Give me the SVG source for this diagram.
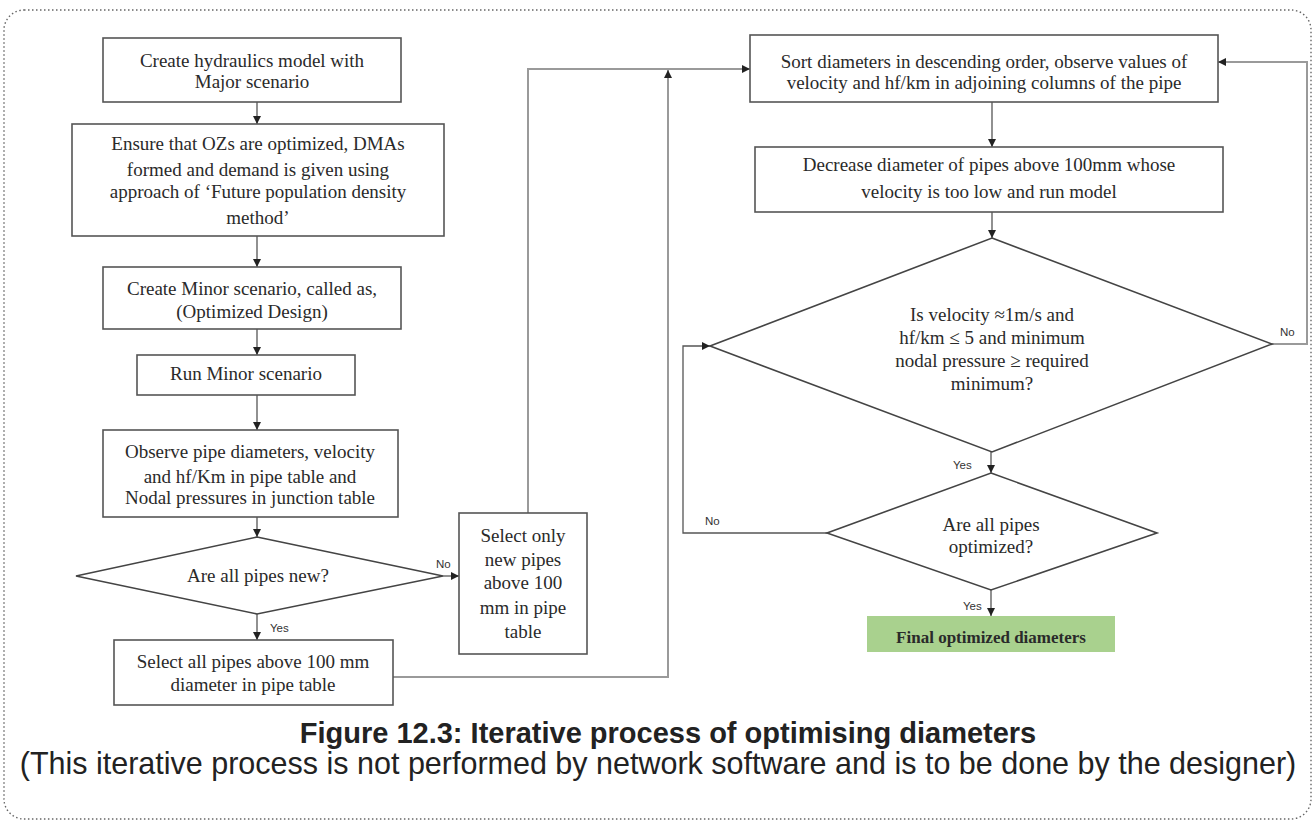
<svg xmlns="http://www.w3.org/2000/svg" width="1316" height="824" viewBox="0 0 1316 824">
<defs>
<marker id="arr" viewBox="0 0 10 10" refX="10" refY="5" markerWidth="8" markerHeight="8" markerUnits="userSpaceOnUse" orient="auto">
<path d="M0,0 L10,5 L0,10 z" fill="#222"/>
</marker>
<style>
.box{fill:#fff;stroke:#555;stroke-width:1.6}
.dia{fill:#fff;stroke:#444;stroke-width:1.6}
.t{font-family:"Liberation Serif","Times New Roman",serif;font-size:19px;fill:#2a2a2a;text-anchor:middle}
.lbl{font-family:"Liberation Sans",Arial,sans-serif;font-size:11.5px;fill:#333}
.c{fill:none;stroke:#555;stroke-width:1.3}
.cg{fill:none;stroke:#9a9a9a;stroke-width:2}
.cap{font-family:"Liberation Sans",Arial,sans-serif;fill:#222;text-anchor:middle}
</style>
</defs>
<rect width="1316" height="824" fill="#fff"/>
<rect x="4" y="10" width="1307" height="809" rx="20" ry="20" fill="none" stroke="#666" stroke-width="1.4" stroke-dasharray="1.5 2.5"/>

<g id="connectors">
<path class="c" d="M257,102 V124" marker-end="url(#arr)"/>
<path class="c" d="M257,236 V267" marker-end="url(#arr)"/>
<path class="c" d="M257,329 V355" marker-end="url(#arr)"/>
<path class="c" d="M257,395 V430" marker-end="url(#arr)"/>
<path class="c" d="M257,517 V537" marker-end="url(#arr)"/>
<path class="c" d="M443,576 H459" marker-end="url(#arr)"/>
<path class="c" d="M257,614 V640" marker-end="url(#arr)"/>
<path class="cg" d="M528,513 V69 H750" marker-end="url(#arr)"/>
<path class="cg" d="M393,677 H668 V70" marker-end="url(#arr)"/>
<path class="c" d="M992,102 V147" marker-end="url(#arr)"/>
<path class="c" d="M992,212 V238" marker-end="url(#arr)"/>
<path class="c" d="M991,452 V473" marker-end="url(#arr)"/>
<path class="c" d="M991,590 V616" marker-end="url(#arr)"/>
<path class="c" d="M827,533 H683 V346 H710" marker-end="url(#arr)"/>
<path class="cg" d="M1272,344 H1307 V62 H1218" marker-end="url(#arr)"/>
<text class="lbl" x="436" y="568">No</text>
<text class="lbl" x="270" y="632">Yes</text>
<text class="lbl" x="953" y="469">Yes</text>
<text class="lbl" x="963" y="610">Yes</text>
<text class="lbl" x="705" y="525">No</text>
<text class="lbl" x="1280" y="336">No</text>
</g>

<g id="n1">
<rect class="box" x="103" y="38" width="298" height="64"/>
<text class="t" x="252" y="67">Create hydraulics model with</text>
<text class="t" x="252" y="88">Major scenario</text>
</g>
<g id="n2">
<rect class="box" x="72" y="124" width="372" height="112"/>
<text class="t" x="258" y="150">Ensure that OZs are optimized, DMAs</text>
<text class="t" x="258" y="176">formed and demand is given using</text>
<text class="t" x="258" y="198">approach of ‘Future population density</text>
<text class="t" x="258" y="224">method’</text>
</g>
<g id="n3">
<rect class="box" x="103" y="267" width="298" height="62"/>
<text class="t" x="252" y="295">Create Minor scenario, called as,</text>
<text class="t" x="252" y="318">(Optimized Design)</text>
</g>
<g id="n4">
<rect class="box" x="137" y="355" width="218" height="40"/>
<text class="t" x="246" y="380">Run Minor scenario</text>
</g>
<g id="n5">
<rect class="box" x="103" y="430" width="295" height="87"/>
<text class="t" x="250" y="458">Observe pipe diameters, velocity</text>
<text class="t" x="250" y="483">and hf/Km in pipe table and</text>
<text class="t" x="250" y="504">Nodal pressures in junction table</text>
</g>
<g id="n6">
<polygon class="dia" points="257,537 443,576 257,614 76,576"/>
<text class="t" x="258" y="582">Are all pipes new?</text>
</g>
<g id="n7">
<rect class="box" x="459" y="513" width="128" height="141"/>
<text class="t" x="523" y="542">Select only</text>
<text class="t" x="523" y="566">new pipes</text>
<text class="t" x="523" y="589">above 100</text>
<text class="t" x="523" y="614">mm in pipe</text>
<text class="t" x="523" y="638">table</text>
</g>
<g id="n8">
<rect class="box" x="114" y="640" width="279" height="65"/>
<text class="t" x="253" y="668">Select all pipes above 100 mm</text>
<text class="t" x="253" y="691">diameter in pipe table</text>
</g>
<g id="n9">
<rect class="box" x="750" y="35" width="468" height="67"/>
<text class="t" x="984" y="68">Sort diameters in descending order, observe values of</text>
<text class="t" x="984" y="89">velocity and hf/km in adjoining columns of the pipe</text>
</g>
<g id="n10">
<rect class="box" x="755" y="147" width="468" height="65"/>
<text class="t" x="989" y="171">Decrease diameter of pipes above 100mm whose</text>
<text class="t" x="989" y="198">velocity is too low and run model</text>
</g>
<g id="n11">
<polygon class="dia" points="992,238 1272,344 992,452 710,346"/>
<text class="t" x="992" y="321">Is velocity ≈1m/s and</text>
<text class="t" x="992" y="344">hf/km ≤ 5 and minimum</text>
<text class="t" x="992" y="367">nodal pressure ≥ required</text>
<text class="t" x="992" y="390">minimum?</text>
</g>
<g id="n12">
<polygon class="dia" points="991,473 1157,533 991,590 827,533"/>
<text class="t" x="991" y="531">Are all pipes</text>
<text class="t" x="991" y="553">optimized?</text>
</g>
<g id="n13">
<rect x="867" y="616" width="248" height="36" fill="#a9d18e"/>
<text class="t" x="991" y="643" style="font-weight:bold;font-size:17px">Final optimized diameters</text>
</g>

<g id="caption">
<text class="cap" x="668" y="743" style="font-weight:bold;font-size:29px">Figure 12.3: Iterative process of optimising diameters</text>
<text class="cap" x="658" y="774" style="font-size:30.5px">(This iterative process is not performed by network software and is to be done by the designer)</text>
</g>
</svg>
